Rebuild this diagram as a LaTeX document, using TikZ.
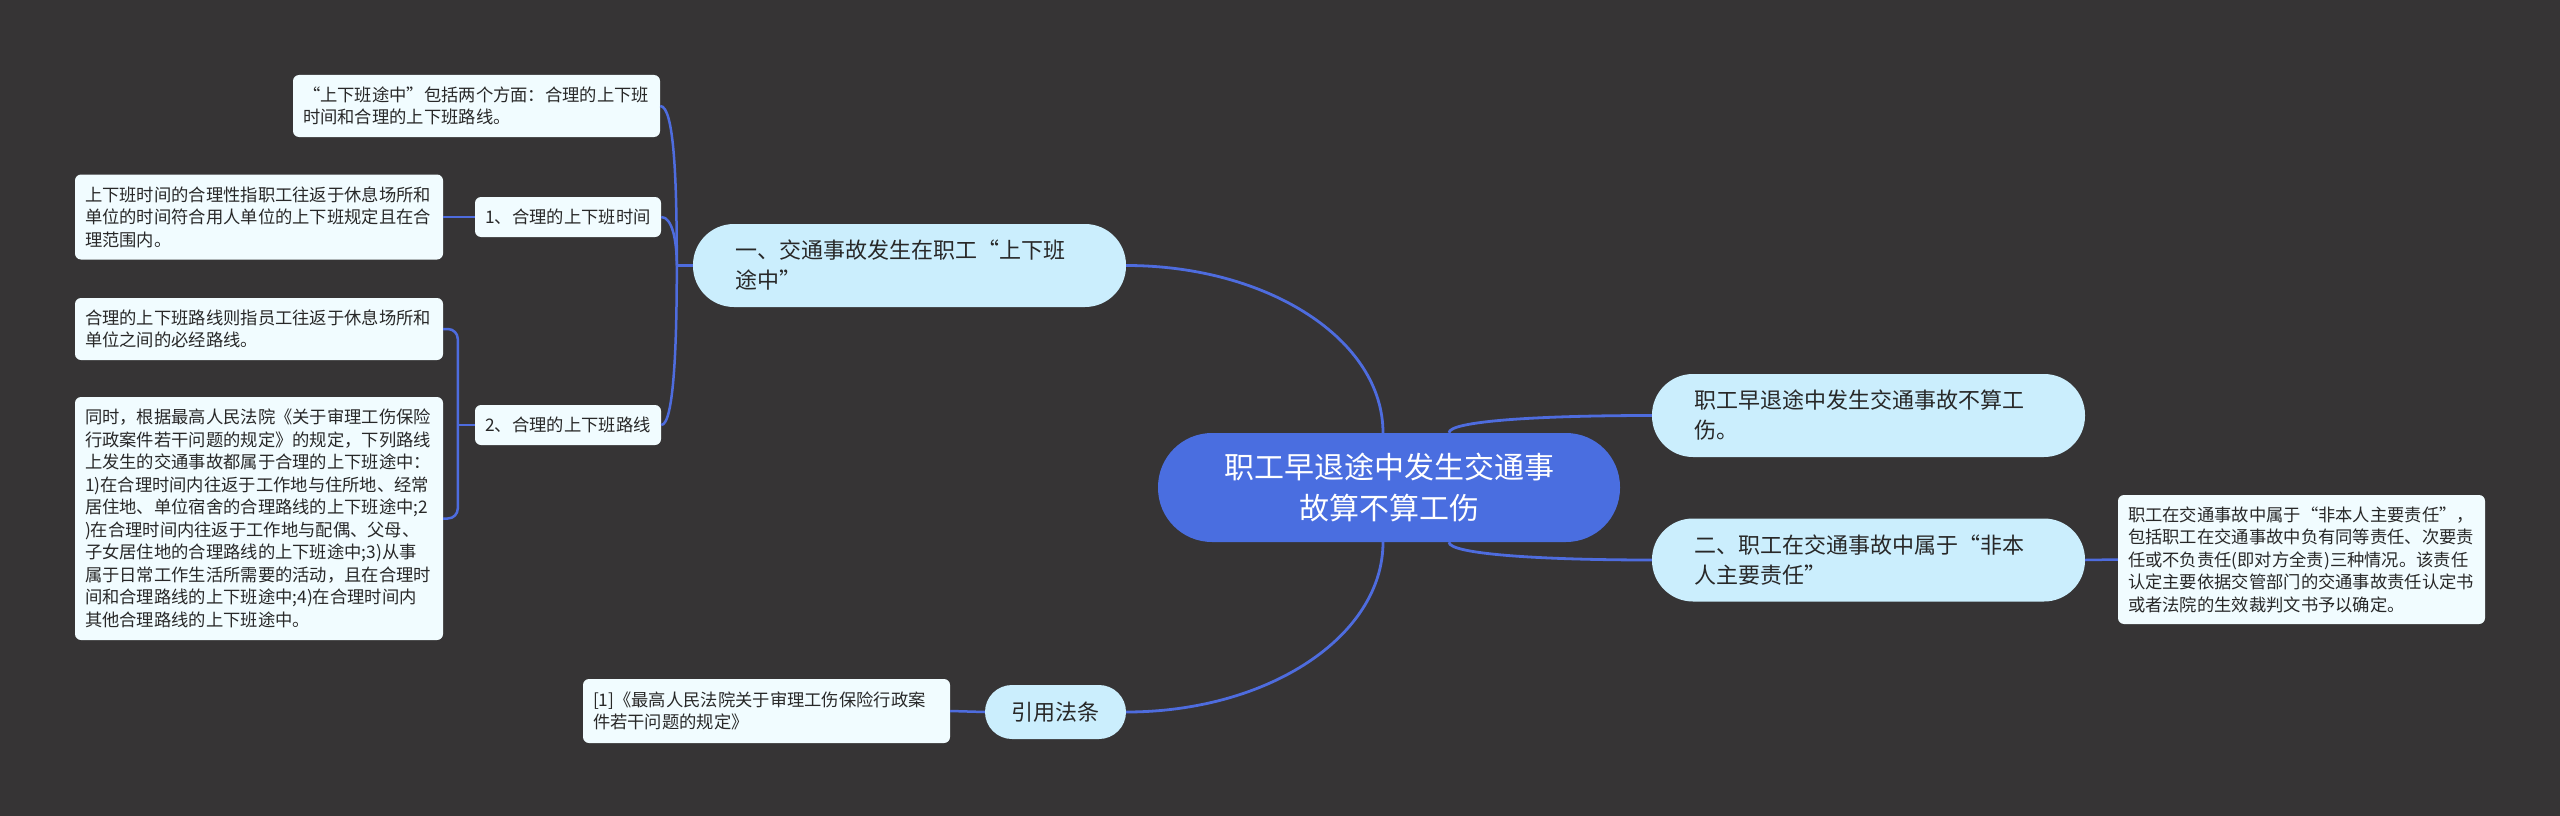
\documentclass[tikz,border=0pt]{standalone}
\usepackage{fontspec}
\setmainfont{Noto Sans CJK SC}
\setlength\parindent{0pt}
\definecolor{bg}{RGB}{54,52,53}
\definecolor{cfill}{RGB}{74,110,224}
\definecolor{tfill}{RGB}{203,238,253}
\definecolor{sfill}{RGB}{241,252,255}
\definecolor{tcol}{RGB}{40,40,40}
\definecolor{lcol}{RGB}{78,108,222}
\tikzset{
  central/.style={rectangle, rounded corners=54pt, fill=cfill, text=white,
    minimum width=462pt, minimum height=109pt, inner sep=0pt, align=center,
    font=\fontsize{30}{41}\selectfont},
  topic/.style={rectangle, rounded corners=41pt, fill=tfill, text=tcol,
    text width=349pt, inner xsep=42pt, inner ysep=0pt, minimum height=83pt,
    align=left, font=\fontsize{22}{30}\selectfont},
  topicsmall/.style={rectangle, rounded corners=27pt, fill=tfill, text=tcol,
    minimum width=141pt, minimum height=54pt, inner sep=0pt, align=center,
    font=\fontsize{22}{30}\selectfont},
  leaf/.style={rectangle, rounded corners=6pt, fill=sfill, text=tcol,
    inner xsep=10pt, inner ysep=0pt, align=left,
    font=\fontsize{17.3}{22.5}\selectfont},
  leafshort/.style={leaf, minimum width=186pt, minimum height=40pt, align=center, inner xsep=0pt},
  mainline/.style={draw=lcol, line width=2.8pt},
  subline/.style={draw=lcol, line width=2.5pt},
}
\begin{document}
\begin{tikzpicture}[x=1pt,y=-1pt]
\fill[bg] (0,0) rectangle (2560,816);
\useasboundingbox (0,0) rectangle (2560,816);

\node[central] (c) at (1389,487.5) {职工早退途中发生交通事\\故算不算工伤};
\node[topic] (n1) at (909.5,265.5) {一、交通事故发生在职工“上下班\\途中”};
\node[topic] (r1) at (1868.5,415.5) {职工早退途中发生交通事故不算工\\伤。};
\node[topic] (r2) at (1868.5,560) {二、职工在交通事故中属于“非本\\人主要责任”};
\node[topicsmall] (cite) at (1055.5,712) {引用法条};

\node[leaf, text width=347pt, minimum height=62pt] (a) at (476.5,106)
  {“上下班途中”包括两个方面：合理的上下班\\时间和合理的上下班路线。};
\node[leafshort] (b) at (568,217) {1、合理的上下班时间};
\node[leafshort] (cc) at (568,425) {2、合理的上下班路线};
\node[leaf, text width=348pt, minimum height=85pt] (d) at (259,217)
  {上下班时间的合理性指职工往返于休息场所和\\单位的时间符合用人单位的上下班规定且在合\\理范围内。};
\node[leaf, text width=348pt, minimum height=62pt] (e) at (259,329)
  {合理的上下班路线则指员工往返于休息场所和\\单位之间的必经路线。};
\node[leaf, text width=348pt, minimum height=243pt] (f) at (259,518.5)
  {同时，根据最高人民法院《关于审理工伤保险\\行政案件若干问题的规定》的规定，下列路线\\上发生的交通事故都属于合理的上下班途中：\\1)在合理时间内往返于工作地与住所地、经常\\居住地、单位宿舍的合理路线的上下班途中;2\\)在合理时间内往返于工作地与配偶、父母、\\子女居住地的合理路线的上下班途中;3)从事\\属于日常工作生活所需要的活动，且在合理时\\间和合理路线的上下班途中;4)在合理时间内\\其他合理路线的上下班途中。};
\node[leaf, text width=347pt, minimum height=129pt] (g) at (2301.5,559.5)
  {职工在交通事故中属于“非本人主要责任”，\\包括职工在交通事故中负有同等责任、次要责\\任或不负责任(即对方全责)三种情况。该责任\\认定主要依据交管部门的交通事故责任认定书\\或者法院的生效裁判文书予以确定。};
\node[leaf, text width=347pt, minimum height=64pt] (h) at (766.5,711)
  {[1]《最高人民法院关于审理工伤保险行政案\\件若干问题的规定》};

% main connectors
\draw[mainline] ([xshift=-6pt]c.north) .. controls +(0,-93) and +(142,0) .. (n1.east);
\draw[mainline] ([xshift=-6pt]c.south) .. controls +(0,94) and +(142,0) .. (cite.east);
\draw[mainline] ([xshift=60pt]c.north) .. controls +(0,-12) and +(-110,0) .. (r1.west);
\draw[mainline] ([xshift=60pt]c.south) .. controls +(0,12) and +(-110,0) .. (r2.west);

% sub connectors
\draw[subline] (n1.west) -- ++(-16,0) coordinate (p1);
\draw[subline] (a.east) .. controls +(14,0) and +(0,-85) .. (p1);
\draw[subline] (b.east) .. controls +(11,0) and +(0,-25) .. (p1);
\draw[subline] (cc.east) .. controls +(13,0) and +(0,75) .. (p1);
\draw[subline] (b.west) -- (d.east);
\draw[subline] (cc.west) -- ++(-17,0) coordinate (p2);
\draw[subline, rounded corners=10pt] (e.east) -| (p2) |- (f.east);
\draw[subline] (cite.west) -- (h.east);
\draw[subline] (r2.east) -- (g.west);
\end{tikzpicture}
\end{document}
